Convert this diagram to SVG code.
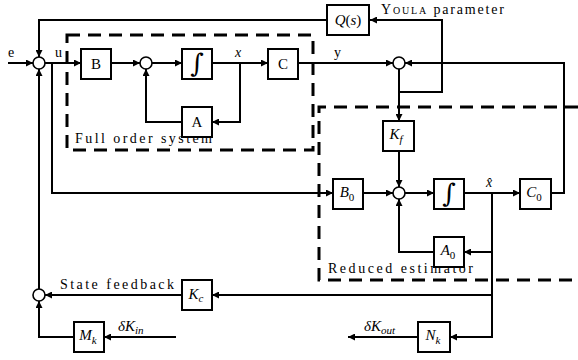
<svg xmlns="http://www.w3.org/2000/svg" width="578" height="360" viewBox="0 0 578 360">
<style>
.box{fill:#fff;stroke:#000;stroke-width:2}
.sum{fill:#fff;stroke:#000;stroke-width:1.6}
.wire{fill:none;stroke:#000;stroke-width:2}
.dash{fill:none;stroke:#000;stroke-width:3;stroke-dasharray:13 8}
text{font-family:"Liberation Serif","Times New Roman",serif;fill:#000}
.lbl{font-size:14px}
.bl{font-size:15px;text-anchor:middle}
.it{font-style:italic}
.int{font-size:26px;text-anchor:middle;font-family:"DejaVu Serif",serif;font-style:italic}
.sub{font-size:11px}
</style>
<defs>
<marker id="ar" viewBox="0 0 10 10" refX="10" refY="5" markerWidth="9" markerHeight="7" markerUnits="userSpaceOnUse" orient="auto">
<path d="M0,0 L10,5 L0,10 z" fill="#000"/>
</marker>
</defs>

<g id="frames">
<rect class="dash" x="67" y="35" width="246" height="115"/>
<path class="dash" d="M578,107 H319 V280 H578"/>
<text class="lbl" x="75" y="143" textLength="137" lengthAdjust="spacing">Full order system</text>
<text class="lbl" x="328" y="273" textLength="145" lengthAdjust="spacing">Reduced estimator</text>
</g>

<g id="connectors">
<path class="wire" marker-end="url(#ar)" d="M8,63 H33"/>
<path class="wire" marker-end="url(#ar)" d="M45,63 H81"/>
<path class="wire" marker-end="url(#ar)" d="M52,63 V193 H333"/>
<path class="wire" marker-end="url(#ar)" d="M111,63 H140"/>
<path class="wire" marker-end="url(#ar)" d="M152,63 H182"/>
<path class="wire" marker-end="url(#ar)" d="M212,63 H268"/>
<path class="wire" marker-end="url(#ar)" d="M240,63 V122 H212"/>
<path class="wire" marker-end="url(#ar)" d="M182,122 H146 V69"/>
<path class="wire" marker-end="url(#ar)" d="M298,63 H393"/>
<path class="wire" marker-end="url(#ar)" d="M399,69 V121"/>
<path class="wire" marker-end="url(#ar)" d="M399,92 H442 V20 H370"/>
<path class="wire" marker-end="url(#ar)" d="M327,20 H39 V57"/>
<path class="wire" marker-end="url(#ar)" d="M551,193 H564 V63 H405"/>
<path class="wire" marker-end="url(#ar)" d="M399,151 V187"/>
<path class="wire" marker-end="url(#ar)" d="M363,193 H393"/>
<path class="wire" marker-end="url(#ar)" d="M405,193 H434"/>
<path class="wire" marker-end="url(#ar)" d="M464,193 H520"/>
<path class="wire" marker-end="url(#ar)" d="M492,193 V337 H450"/>
<path class="wire" marker-end="url(#ar)" d="M492,252 H464"/>
<path class="wire" marker-end="url(#ar)" d="M434,252 H399 V199"/>
<path class="wire" marker-end="url(#ar)" d="M492,295 H212"/>
<path class="wire" marker-end="url(#ar)" d="M182,295 H45"/>
<path class="wire" marker-end="url(#ar)" d="M39,289 V69"/>
<path class="wire" marker-end="url(#ar)" d="M176,337 H104"/>
<path class="wire" marker-end="url(#ar)" d="M74,337 H39 V301"/>
<path class="wire" marker-end="url(#ar)" d="M418,337 H348"/>
</g>

<g id="labels">
<text class="lbl" x="8" y="57">e</text>
<text class="lbl" x="55" y="57">u</text>
<text class="lbl it" x="235" y="57">x</text>
<text class="lbl" x="334" y="57">y</text>
<text class="lbl it" x="486" y="187">x̂</text>
<text class="lbl" x="60" y="289" textLength="114" lengthAdjust="spacing">State feedback</text>
<text class="lbl" x="381" y="14" textLength="123" lengthAdjust="spacing"><tspan style="font-variant:small-caps">Youla</tspan> parameter</text>
<text class="lbl" x="118" y="331"><tspan class="it" font-size="15">δK</tspan><tspan class="sub it" dy="3">in</tspan></text>
<text class="lbl" x="364" y="331"><tspan class="it" font-size="15">δK</tspan><tspan class="sub it" dy="3">out</tspan></text>
</g>

<g id="sum1"><circle class="sum" cx="39" cy="63" r="6"/></g>
<g id="sum2"><circle class="sum" cx="146" cy="63" r="6"/></g>
<g id="sum3"><circle class="sum" cx="399" cy="63" r="6"/></g>
<g id="sum4"><circle class="sum" cx="399" cy="193" r="6"/></g>
<g id="sum5"><circle class="sum" cx="39" cy="295" r="6"/></g>

<g id="B"><rect class="box" x="81" y="49" width="30" height="30"/><text class="bl" x="96" y="69">B</text></g>
<g id="int1"><rect class="box" x="182" y="49" width="30" height="30"/><text class="int" x="197" y="72">∫</text></g>
<g id="C"><rect class="box" x="268" y="49" width="30" height="30"/><text class="bl" x="283" y="69">C</text></g>
<g id="A"><rect class="box" x="182" y="107" width="30" height="30"/><text class="bl" x="197" y="127">A</text></g>
<g id="Q"><rect class="box" x="327" y="5" width="42" height="30"/><text class="bl" x="348" y="25"><tspan class="it">Q</tspan>(<tspan class="it">s</tspan>)</text></g>
<g id="Kf"><rect class="box" x="383" y="121" width="31" height="30"/><text class="bl it" x="396" y="139">K<tspan class="sub" dy="4">f</tspan></text></g>
<g id="B0"><rect class="box" x="333" y="179" width="30" height="30"/><text class="bl" x="347" y="197"><tspan class="it">B</tspan><tspan class="sub" dy="4">0</tspan></text></g>
<g id="int2"><rect class="box" x="434" y="179" width="30" height="30"/><text class="int" x="449" y="202">∫</text></g>
<g id="C0"><rect class="box" x="520" y="179" width="31" height="30"/><text class="bl" x="534" y="197"><tspan class="it">C</tspan><tspan class="sub" dy="4">0</tspan></text></g>
<g id="A0"><rect class="box" x="434" y="237" width="30" height="30"/><text class="bl" x="448" y="255"><tspan class="it">A</tspan><tspan class="sub" dy="4">0</tspan></text></g>
<g id="Kc"><rect class="box" x="182" y="280" width="30" height="30"/><text class="bl" x="196" y="299"><tspan class="it">K</tspan><tspan class="sub it" dy="3">c</tspan></text></g>
<g id="Mk"><rect class="box" x="74" y="322" width="30" height="30"/><text class="bl" x="88" y="340"><tspan class="it">M</tspan><tspan class="sub it" dy="4">k</tspan></text></g>
<g id="Nk"><rect class="box" x="418" y="322" width="32" height="30"/><text class="bl" x="433" y="340"><tspan class="it">N</tspan><tspan class="sub it" dy="4">k</tspan></text></g>
</svg>
